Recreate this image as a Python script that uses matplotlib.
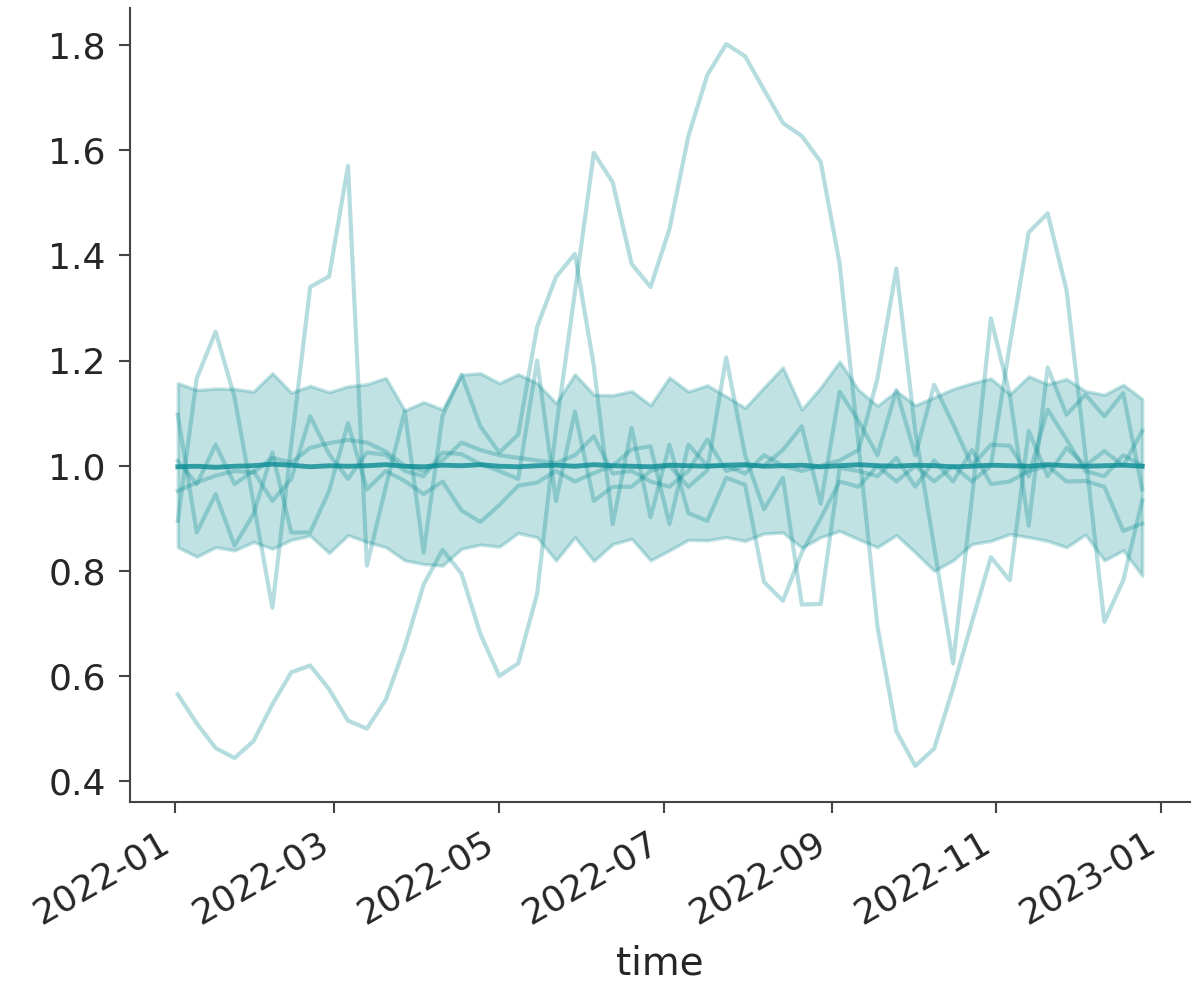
import numpy as np
import pandas as pd
import matplotlib
matplotlib.use("Agg")
import matplotlib.pyplot as plt
import matplotlib.dates as mdates

dates = pd.date_range("2022-01-02", periods=52, freq="7D")

s1 = [0.565, 0.51, 0.463, 0.444, 0.476, 0.546, 0.607, 0.62, 0.575, 0.515,
      0.50, 0.555, 0.655, 0.774, 0.84, 0.795, 0.68, 0.60, 0.624, 0.756,
      1.07, 1.33, 1.595, 1.539, 1.384, 1.34, 1.45, 1.627, 1.743, 1.802,
      1.779, 1.715, 1.652, 1.627, 1.578, 1.384, 1.04, 0.694, 0.495, 0.429,
      0.462, 0.577, 0.703, 0.826, 0.782, 1.066, 0.98, 1.034, 1.0, 1.028,
      1.0, 1.066]
s2 = [0.895, 1.166, 1.255, 1.13, 0.93, 0.73, 1.04, 1.34, 1.36, 1.57,
      0.81, 0.96, 1.104, 0.835, 1.095, 1.173, 1.075, 1.025, 1.059, 1.264,
      1.359, 1.403, 1.19, 0.889, 1.072, 0.902, 1.04, 0.91, 0.895, 0.977,
      0.964, 0.779, 0.743, 0.835, 0.90, 0.97, 0.96, 1.0, 0.97, 1.0,
      0.97, 1.0, 0.97, 1.0, 1.23, 1.444, 1.48, 1.334, 1.02, 0.703,
      0.782, 0.934]
s3 = [1.097, 0.873, 0.946, 0.848, 0.908, 1.025, 0.873, 0.873, 0.952, 1.081,
      0.955, 0.99, 0.971, 0.946, 0.97, 0.915, 0.893, 0.925, 0.962, 0.968,
      0.99, 0.97, 0.986, 1.0, 1.031, 1.037, 0.889, 1.04, 1.0, 1.0,
      0.985, 1.02, 1.0, 0.99, 1.0, 1.01, 1.03, 1.166, 1.375, 1.065,
      0.845, 0.624, 0.94, 1.28, 1.135, 0.886, 1.187, 1.097, 1.135, 1.094,
      1.138, 0.955]
s4 = [1.009, 0.965, 1.04, 0.965, 0.99, 0.933, 0.975, 1.094, 1.022, 0.975,
      1.025, 1.021, 0.99, 0.98, 1.025, 1.022, 1.003, 0.99, 0.975, 1.20,
      0.933, 1.103, 0.933, 0.96, 0.96, 0.99, 1.0, 0.96, 0.991, 1.206,
      1.02, 0.917, 0.977, 0.736, 0.737, 0.996, 0.99, 0.98, 1.015, 0.96,
      1.01, 0.97, 1.03, 0.965, 0.97, 0.99, 1.0, 0.97, 0.971, 0.96,
      0.876, 0.89]
s5 = [0.952, 0.968, 0.981, 0.99, 0.987, 1.015, 1.006, 1.034, 1.043, 1.049,
      1.044, 1.027, 1.0, 0.99, 1.01, 1.044, 1.03, 1.02, 1.015, 1.01,
      1.005, 1.02, 1.056, 0.985, 0.99, 0.97, 0.96, 0.99, 1.05, 0.99,
      1.0, 1.0, 1.03, 1.075, 0.928, 1.141, 1.085, 1.02, 1.144, 1.02,
      1.154, 1.079, 1.0, 1.04, 1.038, 0.98, 1.107, 1.05, 0.99, 0.98,
      1.02, 1.0]
mean_line = [0.998, 0.999, 0.997, 0.999, 1.0, 1.003, 1.001, 0.998, 1.0, 0.999,
             1.0, 1.002, 0.999, 0.998, 1.001, 1.0, 1.002, 0.999, 0.998, 1.0,
             1.001, 0.999, 1.002, 1.0, 0.999, 0.998, 1.001, 1.0, 0.999, 1.001,
             1.002, 0.999, 1.0, 1.001, 0.998, 1.0, 1.002, 1.0, 0.999, 1.001,
             1.0, 0.998, 0.999, 1.001, 1.0, 0.999, 1.002, 1.0, 0.999, 1.0,
             1.001, 0.999]
upper = [1.157, 1.144, 1.147, 1.146, 1.141, 1.176, 1.139, 1.152, 1.140, 1.151,
         1.155, 1.167, 1.105, 1.121, 1.107, 1.173, 1.176, 1.157, 1.174, 1.157,
         1.119, 1.174, 1.135, 1.134, 1.142, 1.115, 1.168, 1.141, 1.153, 1.132,
         1.11, 1.149, 1.187, 1.107, 1.149, 1.198, 1.144, 1.114, 1.142, 1.115,
         1.13, 1.146, 1.157, 1.166, 1.136, 1.17, 1.155, 1.165, 1.142, 1.135,
         1.154, 1.127]
lower = [0.845, 0.827, 0.845, 0.839, 0.855, 0.842, 0.859, 0.867, 0.834, 0.868,
         0.855, 0.845, 0.82, 0.813, 0.81, 0.842, 0.85, 0.846, 0.872, 0.864,
         0.82, 0.864, 0.819, 0.851, 0.861, 0.82, 0.839, 0.859, 0.858, 0.864,
         0.857, 0.871, 0.873, 0.844, 0.864, 0.876, 0.86, 0.845, 0.868, 0.835,
         0.80, 0.82, 0.851, 0.857, 0.87, 0.864, 0.857, 0.845, 0.869, 0.82,
         0.839, 0.791]

samples = [s1, s2, s3, s4, s5]
color = "#0a8c93"
ink = "#262626"

plt.rcParams["font.family"] = ["DejaVu Sans"]
fig = plt.figure(figsize=(12, 10), dpi=100)
ax = fig.add_axes([0.108, 0.198, 0.884, 0.794])

ax.fill_between(dates, lower, upper, color=color, alpha=0.25, lw=2.5)
for s in samples:
    ax.plot(dates, s, color=color, alpha=0.3, lw=3)
ax.plot(dates, mean_line, color=color, alpha=0.8, lw=3.5)

ax.xaxis.set_major_locator(mdates.MonthLocator(bymonth=[1, 3, 5, 7, 9, 11]))
ax.xaxis.set_major_formatter(mdates.DateFormatter("%Y-%m"))
ax.set_yticks([0.4, 0.6, 0.8, 1.0, 1.2, 1.4, 1.6, 1.8])

for side in ["top", "right"]:
    ax.spines[side].set_visible(False)
for side in ["left", "bottom"]:
    ax.spines[side].set_color("#444444")
    ax.spines[side].set_linewidth(1.5)
ax.tick_params(axis="both", direction="out", length=8, width=1.5, pad=9,
               color="#444444", labelsize=26, labelcolor=ink)
plt.setp(ax.get_xticklabels(), rotation=30, ha="right")
ax.set_xlabel("time", fontsize=28, color=ink, labelpad=10)

fig.savefig("out.png", dpi=100)
